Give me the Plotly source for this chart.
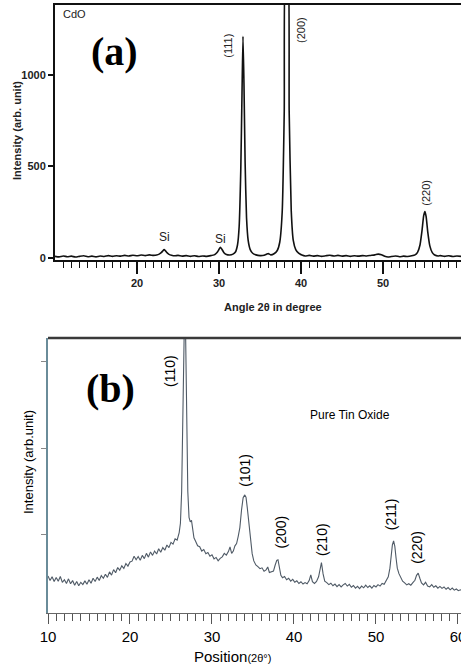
import plotly.graph_objects as go

# ---- (a) CdO diffractogram ----
cdo_two_theta = [
    10.0, 10.5, 11.0, 11.5, 12.0, 12.5, 13.0, 13.5, 14.0, 14.5, 15.0, 15.5, 16.0, 16.5,
    17.0, 17.5, 18.0, 18.5, 19.0, 19.5, 20.0, 20.5, 21.0, 21.5, 22.0, 22.4, 22.7, 22.95,
    23.15, 23.3, 23.45, 23.65, 23.9, 24.2, 24.6, 25.0, 25.5, 26.0, 26.5, 27.0, 27.5, 28.0,
    28.5, 29.0, 29.4, 29.7, 29.95, 30.15, 30.35, 30.6, 30.9, 31.3, 31.7, 32.0, 32.25, 32.45,
    32.65, 32.8, 32.92, 33.04, 33.18, 33.35, 33.55, 33.8, 34.1, 34.5, 35.0, 35.5, 35.8, 36.0,
    36.3, 36.7, 37.1, 37.4, 37.7, 37.95, 38.15, 38.35, 38.55, 38.8, 39.05, 39.35, 39.7, 40.1,
    40.5, 41.0, 41.5, 42.0, 42.5, 43.0, 43.5, 44.0, 44.5, 45.0, 45.5, 46.0, 46.5, 47.0,
    47.5, 48.0, 48.5, 49.0, 49.4, 49.8, 50.2, 50.6, 51.0, 51.5, 52.0, 52.5, 53.0, 53.5,
    53.9, 54.2, 54.5, 54.75, 54.95, 55.1, 55.25, 55.45, 55.7, 56.0, 56.3, 56.7, 57.0, 57.5,
    58.0, 58.5, 59.0, 59.5,
]
cdo_intensity = [
    8, 5, 10, 6, 9, 4, 8, 11, 6, 9, 5, 10, 7, 12,
    8, 11, 9, 13, 10, 14, 11, 15, 12, 16, 13, 15, 20, 28,
    38, 45, 39, 28, 19, 14, 11, 13, 9, 12, 8, 11, 7, 10,
    8, 12, 16, 26, 42, 58, 47, 28, 18, 15, 20, 32, 70, 170,
    480, 900, 1210, 950, 520, 220, 95, 45, 25, 16, 12, 14, 20, 23,
    16, 22, 40, 85, 250, 800, 1650, 1650, 800, 260, 95, 45, 25, 15,
    10, 13, 9, 12, 8, 11, 14, 10, 13, 9, 12, 8, 11, 9,
    12, 10, 13, 16, 20, 17, 8, 4, 7, 10, 6, 9, 7, 11,
    16, 30, 70, 150, 230, 252, 225, 140, 65, 28, 15, 10, 12, 8,
    11, 7, 10, 8,
]
cdo_ticks_x = [20, 30, 40, 50]
cdo_ticks_y = [0, 500, 1000]
# label text, 2-theta of the reflection, label centre height, horizontal nudge (px)
cdo_peak_labels = [("(111)", 32.9, 1158, -15), ("(200)", 38.2, 1246, 14), ("(220)", 55.1, 355, 1)]
cdo_si_labels = [("Si", 23.3, 115), ("Si", 30.2, 104)]

# ---- (b) SnO2 diffractogram ----
sno2_two_theta = [
    10.0, 10.25, 10.5, 10.75, 11.0, 11.25, 11.5, 11.75, 12.0, 12.25, 12.5, 12.75, 13.0, 13.25,
    13.5, 13.75, 14.0, 14.25, 14.5, 14.75, 15.0, 15.25, 15.5, 15.75, 16.0, 16.25, 16.5, 16.75,
    17.0, 17.25, 17.5, 17.75, 18.0, 18.25, 18.5, 18.75, 19.0, 19.25, 19.5, 19.75, 20.0, 20.25,
    20.5, 20.75, 21.0, 21.25, 21.5, 21.75, 22.0, 22.25, 22.5, 22.75, 23.0, 23.25, 23.5, 23.75,
    24.0, 24.25, 24.5, 24.75, 25.0, 25.25, 25.5, 25.75, 26.0, 26.15, 26.3, 26.45, 26.58, 26.68,
    26.78, 26.9, 27.05, 27.2, 27.35, 27.5, 27.65, 27.8, 28.0, 28.25, 28.5, 28.75, 29.0, 29.25,
    29.5, 29.75, 30.0, 30.25, 30.5, 30.75, 31.0, 31.25, 31.5, 31.75, 32.0, 32.2, 32.4, 32.6,
    32.8, 33.0, 33.2, 33.4, 33.6, 33.8, 34.0, 34.15, 34.3, 34.5, 34.7, 34.9, 35.1, 35.35,
    35.6, 35.85, 36.1, 36.35, 36.6, 36.8, 37.0, 37.25, 37.5, 37.7, 37.9, 38.05, 38.2, 38.4,
    38.6, 38.85, 39.1, 39.35, 39.6, 39.85, 40.1, 40.35, 40.6, 40.85, 41.1, 41.35, 41.6, 41.85,
    42.05, 42.25, 42.5, 42.75, 43.0, 43.2, 43.35, 43.55, 43.75, 44.0, 44.25, 44.5, 44.75, 45.0,
    45.25, 45.5, 45.75, 46.0, 46.25, 46.5, 46.75, 47.0, 47.25, 47.5, 47.75, 48.0, 48.25, 48.5,
    48.75, 49.0, 49.25, 49.5, 49.75, 50.0, 50.25, 50.5, 50.75, 51.0, 51.25, 51.5, 51.7, 51.85,
    52.0, 52.15, 52.3, 52.45, 52.6, 52.8, 53.0, 53.25, 53.5, 53.75, 54.0, 54.25, 54.5, 54.75,
    54.95, 55.15, 55.35, 55.55, 55.8, 56.05, 56.3, 56.55, 56.8, 57.05, 57.3, 57.55, 57.8, 58.05,
    58.3, 58.55, 58.8, 59.05, 59.3, 59.55, 59.8, 60.05, 60.3, 60.5,
]
sno2_intensity = [
    15.8, 14.2, 15.5, 13.9, 15.3, 14.0, 15.6, 13.6, 14.5, 13.2, 14.8, 13.1, 14.2, 12.6,
    13.9, 12.4, 13.6, 12.8, 14.1, 12.9, 14.5, 13.3, 15.0, 13.9, 15.4, 14.2, 15.9, 15.0,
    16.4, 15.3, 17.2, 16.1, 18.0, 16.9, 18.7, 17.8, 19.3, 18.4, 20.1, 19.2, 20.6, 20.9,
    22.6, 21.4, 22.5, 21.2, 22.9, 21.8, 23.6, 22.3, 24.1, 22.9, 24.4, 23.4, 25.2, 24.0,
    25.6, 24.7, 26.5, 25.6, 27.4, 26.8, 28.6, 28.2, 30.8, 34.0, 45.0, 75.0, 105.0, 112.0,
    100.0, 70.0, 45.0, 36.0, 34.5, 35.0, 31.0, 29.0, 27.8, 26.2, 25.9, 24.4, 24.9, 23.5,
    23.9, 22.6, 23.1, 21.7, 22.2, 21.0, 21.9, 22.4, 23.6, 23.0, 24.2, 25.8, 23.6, 24.4,
    26.2, 27.0, 29.5, 32.5, 38.5, 42.8, 43.8, 43.0, 39.5, 33.5, 27.0, 23.5, 21.0, 19.6,
    19.0, 18.3, 18.6, 17.4, 17.9, 18.9, 17.0, 17.3, 17.5, 19.5, 21.2, 21.4, 19.5, 16.0,
    15.2, 15.6, 14.5, 15.0, 14.0, 14.6, 13.6, 14.1, 13.2, 13.8, 13.0, 13.5, 13.1, 14.2,
    16.2, 13.8, 13.2, 13.9, 15.5, 18.5, 20.4, 16.5, 14.0, 13.5, 12.8, 13.3, 12.4, 13.0,
    12.1, 12.8, 12.0, 12.7, 13.2, 12.3, 12.9, 11.9, 12.5, 11.6, 12.2, 11.4, 12.3, 11.7,
    12.6, 11.8, 12.4, 11.6, 12.5, 12.0, 12.8, 12.3, 13.2, 12.9, 14.0, 15.5, 18.5, 22.5,
    26.5, 27.9, 26.0, 22.0, 18.5, 16.6, 15.2, 14.0, 13.4, 12.7, 13.1, 12.6, 13.5, 14.3,
    16.0, 16.8, 15.0, 13.4, 12.7, 13.6, 12.3, 12.0, 12.8, 11.9, 12.4, 11.6, 12.2, 11.5,
    12.0, 11.2, 11.8, 11.0, 11.6, 10.9, 11.3, 10.7, 11.0, 10.8,
]
sno2_ticks_x = [10, 20, 30, 40, 50, 60]
sno2_ticks_y = [30, 60, 90]
# label text, 2-theta of the reflection, label centre height, horizontal nudge (px)
sno2_peak_labels = [("(110)", 26.7, 86.6, -15), ("(101)", 34.0, 52.4, 0), ("(200)", 38.0, 31.0, 3),
                    ("(210)", 43.3, 28.2, 1), ("(211)", 52.1, 37.2, -2), ("(220)", 55.1, 25.8, -1)]

W, H = 461, 665
narrow = "Liberation Sans Narrow, Arial Narrow, Liberation Sans, Arial, sans-serif"
sans = "Liberation Sans, Arial, Helvetica, sans-serif"


def px_x(px):
    return px / W


def px_y(py):
    return 1 - py / H


fig = go.Figure()
fig.add_trace(go.Scatter(x=cdo_two_theta, y=cdo_intensity, mode="lines",
                         line=dict(color="#111111", width=1.6, shape="spline", smoothing=0.5),
                         xaxis="x", yaxis="y", hoverinfo="skip"))
fig.add_trace(go.Scatter(x=sno2_two_theta, y=sno2_intensity, mode="lines",
                         line=dict(color="#4f5a66", width=1.1),
                         xaxis="x2", yaxis="y2", hoverinfo="skip"))

ann = []


def paper_text(x, y, text, size, family=sans, color="black", angle=0, xanchor="center"):
    ann.append(dict(x=px_x(x), y=px_y(y), xref="paper", yref="paper", text=text,
                    textangle=angle, showarrow=False, xanchor=xanchor, yanchor="middle",
                    font=dict(family=family, size=size, color=color)))


# panel (a) texts
paper_text(61, 14, "CdO", 11, color="#222", xanchor="left")
paper_text(114, 52, "<b>(a)</b>", 40, family="Liberation Serif, Times New Roman, serif")
for txt, xv, yv, dx in cdo_peak_labels:
    ann.append(dict(x=xv, y=yv, xref="x", yref="y", text=txt, textangle=-90,
                    showarrow=False, xanchor="center", yanchor="middle", xshift=dx,
                    font=dict(family=sans, size=11, color="#222")))
for txt, xv, yv in cdo_si_labels:
    ann.append(dict(x=xv, y=yv, xref="x", yref="y", text=txt, showarrow=False,
                    xanchor="center", yanchor="middle",
                    font=dict(family=sans, size=12, color="#222")))
paper_text(273, 307, "<b>Angle 2θ in degree</b>", 11, color="#222")
paper_text(17, 131, "<b>Intensity (arb. unit)</b>", 11, color="#222", angle=-90)

# panel (b) texts
paper_text(110, 388, "<b>(b)</b>", 40, family="Liberation Serif, Times New Roman, serif")
for txt, xv, yv, dx in sno2_peak_labels:
    ann.append(dict(x=xv, y=yv, xref="x2", yref="y2", text=txt, textangle=-90,
                    showarrow=False, xanchor="center", yanchor="middle", xshift=dx,
                    font=dict(family=sans, size=14, color="black")))
paper_text(350, 415, "Pure Tin Oxide", 12)
paper_text(28, 462, "Intensity (arb.unit)", 13, angle=-90)
paper_text(232, 656, "Position<span style='font-size:11px'>(2θ°)</span>", 15)

fig.update_layout(
    width=W, height=H, margin=dict(l=0, r=0, t=0, b=0, pad=0),
    paper_bgcolor="white", plot_bgcolor="white", showlegend=False,
    annotations=ann,
    xaxis=dict(domain=[px_x(55), 1], anchor="y", range=[10, 59.5], automargin=False,
               showline=True, linecolor="#111", linewidth=2, mirror=True,
               tickmode="array", tickvals=cdo_ticks_x, ticks="outside", ticklen=12,
               tickwidth=1.5, tickcolor="#111",
               minor=dict(tickmode="array", tickvals=list(range(11, 60)), ticks="outside",
                          ticklen=6, tickwidth=1.3, tickcolor="#111", showgrid=False),
               showgrid=False, zeroline=False,
               tickfont=dict(family=narrow, size=11, color="#222", weight="bold")),
    yaxis=dict(domain=[px_y(260), px_y(5)], anchor="x", range=[-12, 1381], automargin=False,
               showline=True, linecolor="#111", linewidth=2,
               tickmode="array", tickvals=cdo_ticks_y, ticks="outside", ticklen=5,
               tickwidth=1.5, tickcolor="#111", showgrid=False, zeroline=False,
               tickfont=dict(family=narrow, size=11, color="#222", weight="bold")),
    xaxis2=dict(domain=[px_x(48), 1], anchor="y2", range=[10, 60.37], automargin=False,
                showline=True, linecolor="#666", linewidth=1.2,
                tickmode="array", tickvals=sno2_ticks_x, ticks="outside", ticklen=10,
                tickwidth=1.2, tickcolor="#555", ticklabeloverflow="allow",
                minor=dict(tickmode="array", tickvals=list(range(11, 61)), ticks="outside",
                           ticklen=7, tickwidth=1, tickcolor="#555", showgrid=False),
                showgrid=False, zeroline=False,
                tickfont=dict(family=sans, size=15, color="black")),
    yaxis2=dict(domain=[px_y(613), px_y(338)], anchor="x2", range=[3, 98], automargin=False,
                showline=True, linecolor="#6a8c99", linewidth=1.5,
                tickmode="array", tickvals=sno2_ticks_y, ticks="outside", ticklen=5,
                tickwidth=1, tickcolor="#888", showticklabels=False,
                showgrid=False, zeroline=False),
    shapes=[dict(type="line", xref="paper", yref="paper", x0=px_x(48), x1=1,
                 y0=px_y(338), y1=px_y(338), line=dict(color="#3a3a3a", width=2.5))],
)

fig.write_html("out.html")
